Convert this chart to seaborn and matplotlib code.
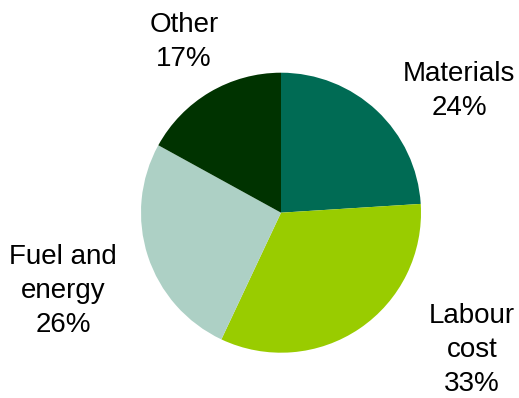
import matplotlib
matplotlib.use("Agg")
import matplotlib.pyplot as plt
import seaborn as sns

categories = ["Materials", "Labour\ncost", "Fuel and\nenergy", "Other"]
values = [24, 33, 26, 17]
colors = ["#006B54", "#99CC00", "#ADD0C5", "#003300"]
label_pos = [(1.271, 0.869), (1.364, -0.981), (-1.557, -0.559), (-0.693, 1.219)]

sns.set_style("white")
plt.rcParams['font.family'] = ['Liberation Sans', 'DejaVu Sans']

fig = plt.figure(figsize=(5.19, 3.98), dpi=100)
ax = fig.add_axes([(281 - 140) / 519, (185.3 - 140) / 398, 280 / 519, 280 / 398])
ax.pie(values, colors=colors, startangle=90, counterclock=False, radius=1,
       wedgeprops=dict(linewidth=0))
ax.set_xlim(-1, 1)
ax.set_ylim(-1, 1)
ax.set_aspect('equal')
ax.axis('off')

for cat, v, (x, y) in zip(categories, values, label_pos):
    ax.text(x, y, f"{cat}\n{v}%", ha='center', va='center', fontsize=20,
            linespacing=1.4, color='black', clip_on=False)

fig.savefig("out.png", dpi=100)
